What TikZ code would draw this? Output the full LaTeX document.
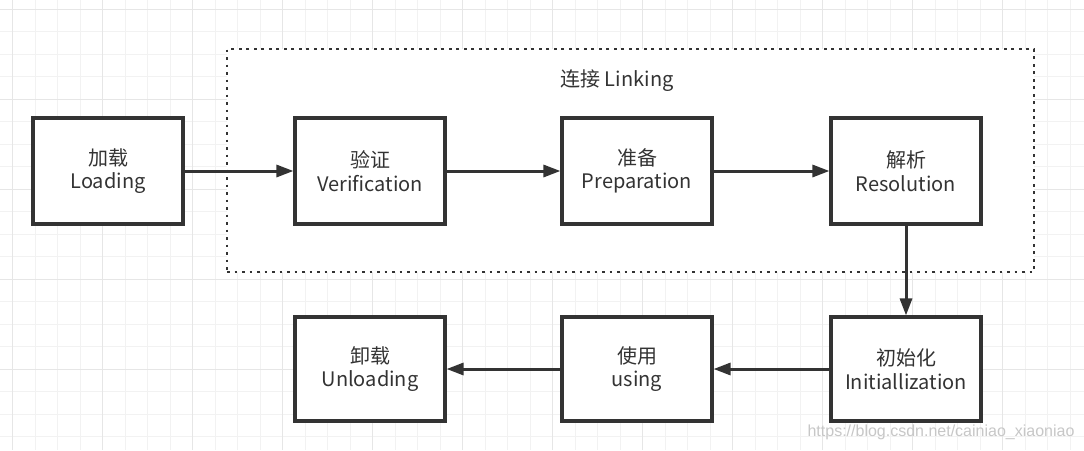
\documentclass[tikz,border=0pt]{standalone}
\usepackage{fontspec}
\setmainfont{Noto Sans CJK SC}
\newfontfamily\markfont{Liberation Sans}
\usetikzlibrary{arrows.meta}
\definecolor{ink}{HTML}{333333}
\definecolor{gridminor}{HTML}{F2F2F2}
\definecolor{gridmajor}{HTML}{E6E6E6}
\tikzset{every picture/.style={x=1pt, y=-1pt}}
\tikzset{stage box/.style={rectangle, draw=ink, line width=3.1pt, fill=white, text=ink,
  minimum width=150pt, minimum height=106pt, align=center, inner sep=0pt,
  font=\fontsize{20}{23.5}\selectfont}}
\tikzset{flow arrow/.style={draw=ink, line width=3pt, -{Triangle[length=17pt,width=12pt]}}}
\tikzset{linking frame/.style={rectangle, draw=ink, fill=white, line width=2.8pt,
  dash pattern=on 2.8pt off 4.7pt, minimum width=807pt, minimum height=223pt, inner sep=0pt}}

\begin{document}
\begin{tikzpicture}
        \useasboundingbox (0,0) rectangle (1084,450);
        \fill[white] (0,0) rectangle (1084,450);
        % grid
        \foreach \x in {12.7,35.2,...,1084} \draw[gridminor, line width=1.2pt] (\x,0) -- (\x,450);
        \foreach \y in {9.3,31.8,...,450} \draw[gridminor, line width=1.2pt] (0,\y) -- (1084,\y);
        \foreach \x in {12.7,102.7,...,1084} \draw[gridmajor, line width=1.2pt] (\x,0) -- (\x,450);
        \foreach \y in {9.3,99.3,...,450} \draw[gridmajor, line width=1.2pt] (0,\y) -- (1084,\y);

        \node[linking frame] (linking) at (630.5,160.5) {};
        \node[text=ink, font=\fontsize{20}{23.5}\selectfont] (linkinglabel) at (617,81) {连接 Linking};

        \node[stage box] (loading) at (108,171) {加载\\Loading};
        \node[stage box] (verification) at (370,171) {验证\\Verification};
        \node[stage box] (preparation) at (637,171) {准备\\Preparation};
        \node[stage box] (resolution) at (906,171) {解析\\Resolution};
        \node[stage box, minimum height=104pt] (initialization) at (906,369) {初始化\\Initiallization};
        \node[stage box, minimum height=104pt] (using) at (637,369) {使用\\using};
        \node[stage box, minimum height=104pt] (unloading) at (370,369) {卸载\\Unloading};

        \draw[flow arrow] (loading) -- (verification);
        \draw[flow arrow] (verification) -- (preparation);
        \draw[flow arrow] (preparation) -- (resolution);
        \draw[flow arrow] (resolution) -- (initialization);
        \draw[flow arrow] (initialization) -- (using);
        \draw[flow arrow] (using) -- (unloading);

        \node[text=black!22, font=\markfont\fontsize{16}{18}\selectfont] (watermark) at (941,432) {https://blog.csdn.net/cainiao\_xiaoniao};
    \end{tikzpicture}
\end{document}
